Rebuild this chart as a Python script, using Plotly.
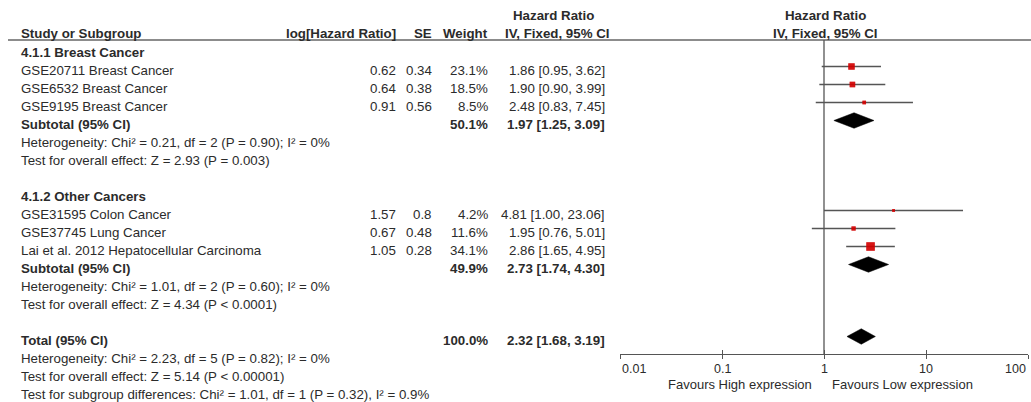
import math
import plotly.graph_objects as go

# ---------------- data ----------------
studies = ["GSE20711 Breast Cancer", "GSE6532 Breast Cancer", "GSE9195 Breast Cancer",
           "GSE31595 Colon Cancer", "GSE37745 Lung Cancer",
           "Lai et al. 2012 Hepatocellular Carcinoma"]
study_rows = [1, 2, 3, 9, 10, 11]
log_hr = ["0.62", "0.64", "0.91", "1.57", "0.67", "1.05"]
se_vals = ["0.34", "0.38", "0.56", "0.8", "0.48", "0.28"]
weights = [23.1, 18.5, 8.5, 4.2, 11.6, 34.1]
hr = [1.86, 1.90, 2.48, 4.81, 1.95, 2.86]
ci_lo = [0.95, 0.90, 0.83, 1.00, 0.76, 1.65]
ci_hi = [3.62, 3.99, 7.45, 23.06, 5.01, 4.95]

pooled_names = ["Subtotal (95% CI)", "Subtotal (95% CI)", "Total (95% CI)"]
pooled_rows = [4, 12, 16]
pooled_weight = [50.1, 49.9, 100.0]
pooled_hr = [1.97, 2.73, 2.32]
pooled_lo = [1.25, 1.74, 1.68]
pooled_hi = [3.09, 4.30, 3.19]

group_titles = ["4.1.1 Breast Cancer", "4.1.2 Other Cancers"]
group_rows = [0, 8]

notes = ["Heterogeneity: Chi² = 0.21, df = 2 (P = 0.90); I² = 0%",
         "Test for overall effect: Z = 2.93 (P = 0.003)",
         "Heterogeneity: Chi² = 1.01, df = 2 (P = 0.60); I² = 0%",
         "Test for overall effect: Z = 4.34 (P < 0.0001)",
         "Heterogeneity: Chi² = 2.23, df = 5 (P = 0.82); I² = 0%",
         "Test for overall effect: Z = 5.14 (P < 0.00001)",
         "Test for subgroup differences: Chi² = 1.01, df = 1 (P = 0.32), I² = 0.9%"]
note_rows = [5, 6, 13, 14, 17, 18, 19]

tick_vals = [0.01, 0.1, 1, 10, 100]
tick_text = ["0.01", "0.1", "1", "10", "100"]

# ---------------- styling ----------------
W, H = 1031, 402
FONT = "Liberation Sans, Arial, sans-serif"
TXT = "#2b2b2b"
FS = 13.3
ROW0 = 48.5     # pixel y of row 0 marks
ROWH = 18.0     # pixel per row
TEXT_SHIFT = -3.5
AX_PX = 354
HEAD_LINE_PX = 40

def px_to_paper_x(px):
    return px / W

def px_to_paper_y(py):
    return 1 - py / H

x_dom = [620 / W, 1028 / W]
y_range = [(H - ROW0) / ROWH, -ROW0 / ROWH]

fig = go.Figure()

sizes = [2 + 0.19 * w for w in weights]

# study CIs
fig.add_trace(go.Scatter(
    x=hr, y=study_rows, mode="markers",
    marker=dict(symbol="square", color="#d10000", size=sizes, line=dict(width=0)),
    error_x=dict(type="data", symmetric=False,
                 array=[hi - h for hi, h in zip(ci_hi, hr)],
                 arrayminus=[h - lo for h, lo in zip(hr, ci_lo)],
                 color="#555555", thickness=1.4, width=0),
    showlegend=False, hoverinfo="skip"))

# squares on top of the lines
fig.add_trace(go.Scatter(
    x=hr, y=study_rows, mode="markers",
    marker=dict(symbol="square", color="#d10000", size=sizes, line=dict(width=0)),
    showlegend=False, hoverinfo="skip"))

# pooled diamonds
for r, h, lo, hi in zip(pooled_rows, pooled_hr, pooled_lo, pooled_hi):
    fig.add_trace(go.Scatter(
        x=[lo, h, hi, h, lo], y=[r, r - 0.43, r, r + 0.43, r],
        mode="lines", fill="toself", fillcolor="black",
        line=dict(color="black", width=0.5),
        showlegend=False, hoverinfo="skip"))

# invisible trace for the overlay axis (cross ticks)
fig.add_trace(go.Scatter(x=[1], y=[-5], xaxis="x2", yaxis="y", mode="markers",
                         marker=dict(opacity=0), showlegend=False, hoverinfo="skip"))

ann = []

def add_text(x_px, row, text, anchor="left", bold=False, size=FS, shift=TEXT_SHIFT):
    ann.append(dict(x=px_to_paper_x(x_px), xref="paper", y=row, yref="y",
                    text=f"<b>{text}</b>" if bold else text,
                    xanchor=anchor, yanchor="middle", yshift=shift, showarrow=False,
                    font=dict(family=FONT, size=size, color=TXT)))

X_LEFT = 19
X_LOG = 398
X_SE = 434
X_W = 490
X_HR = 607

# headers
HDR1 = -1.05
HDR0 = -2.05
add_text(X_LEFT, HDR1, "Study or Subgroup", bold=True)
add_text(X_LOG, HDR1, "log[Hazard Ratio]", anchor="right", bold=True)
add_text(X_SE, HDR1, "SE", anchor="right", bold=True)
add_text(X_W, HDR1, "Weight", anchor="right", bold=True)
add_text(553, HDR0, "Hazard Ratio", anchor="center", bold=True)
add_text(557, HDR1, "IV, Fixed, 95% CI", anchor="center", bold=True)
add_text(825, HDR0, "Hazard Ratio", anchor="center", bold=True)
add_text(825, HDR1, "IV, Fixed, 95% CI", anchor="center", bold=True)

for t, r in zip(group_titles, group_rows):
    add_text(X_LEFT, r, t, bold=True)

for name, r, lg, se, w, h, lo, hi in zip(studies, study_rows, log_hr, se_vals,
                                         weights, hr, ci_lo, ci_hi):
    add_text(X_LEFT, r, name)
    add_text(X_LOG, r, lg, anchor="right")
    add_text(X_SE, r, se, anchor="right")
    add_text(X_W, r, f"{w:.1f}%", anchor="right")
    add_text(X_HR, r, f"{h:.2f} [{lo:.2f}, {hi:.2f}]", anchor="right")

for name, r, w, h, lo, hi in zip(pooled_names, pooled_rows, pooled_weight,
                                 pooled_hr, pooled_lo, pooled_hi):
    add_text(X_LEFT, r, name, bold=True)
    add_text(X_W, r, f"{w:.1f}%", anchor="right", bold=True)
    add_text(X_HR, r, f"{h:.2f} [{lo:.2f}, {hi:.2f}]", anchor="right", bold=True)

for t, r in zip(notes, note_rows):
    add_text(X_LEFT, r, t)

# axis tick labels (annotations on a log axis take log10 positions)
for v, t in zip(tick_vals, tick_text):
    anchor = "left" if v == tick_vals[0] else ("right" if v == tick_vals[-1] else "center")
    ann.append(dict(x=math.log10(v), xref="x", y=px_to_paper_y(369), yref="paper", text=t,
                    xanchor=anchor, yanchor="middle", showarrow=False,
                    font=dict(family=FONT, size=12.5, color=TXT)))

ann.append(dict(x=px_to_paper_x(814), xref="paper", y=px_to_paper_y(384), yref="paper",
                text="Favours High expression", xanchor="right", yanchor="middle",
                showarrow=False, font=dict(family=FONT, size=13, color=TXT)))
ann.append(dict(x=px_to_paper_x(830), xref="paper", y=px_to_paper_y(384), yref="paper",
                text="Favours Low expression", xanchor="left", yanchor="middle",
                showarrow=False, font=dict(family=FONT, size=13, color=TXT)))

shapes = [
    dict(type="line", xref="paper", yref="paper",
         x0=px_to_paper_x(8), x1=1, y0=px_to_paper_y(HEAD_LINE_PX), y1=px_to_paper_y(HEAD_LINE_PX),
         line=dict(color="#666666", width=1.5)),
    dict(type="line", xref="x", yref="paper", x0=1, x1=1,
         y0=px_to_paper_y(HEAD_LINE_PX), y1=px_to_paper_y(AX_PX),
         line=dict(color="#555555", width=1.3)),
]

axis_common = dict(type="log", range=[-2, 2], domain=x_dom, anchor="free",
                   position=px_to_paper_y(AX_PX), tickvals=tick_vals,
                   showticklabels=False, showgrid=False, zeroline=False,
                   showline=True, linecolor="#555555", linewidth=1.3,
                   tickcolor="#555555", tickwidth=1.3, ticklen=4)

fig.update_layout(
    width=W, height=H,
    margin=dict(l=0, r=0, t=0, b=0),
    paper_bgcolor="white", plot_bgcolor="white",
    xaxis=dict(**axis_common, ticks="outside"),
    xaxis2=dict(**axis_common, ticks="inside", overlaying="x"),
    yaxis=dict(range=y_range, domain=[0, 1], visible=False, showgrid=False,
               zeroline=False),
    annotations=ann,
    shapes=shapes,
    showlegend=False,
)

fig.write_html("out.html", config={"displayModeBar": False},
               post_script="document.body.style.margin='0';")
